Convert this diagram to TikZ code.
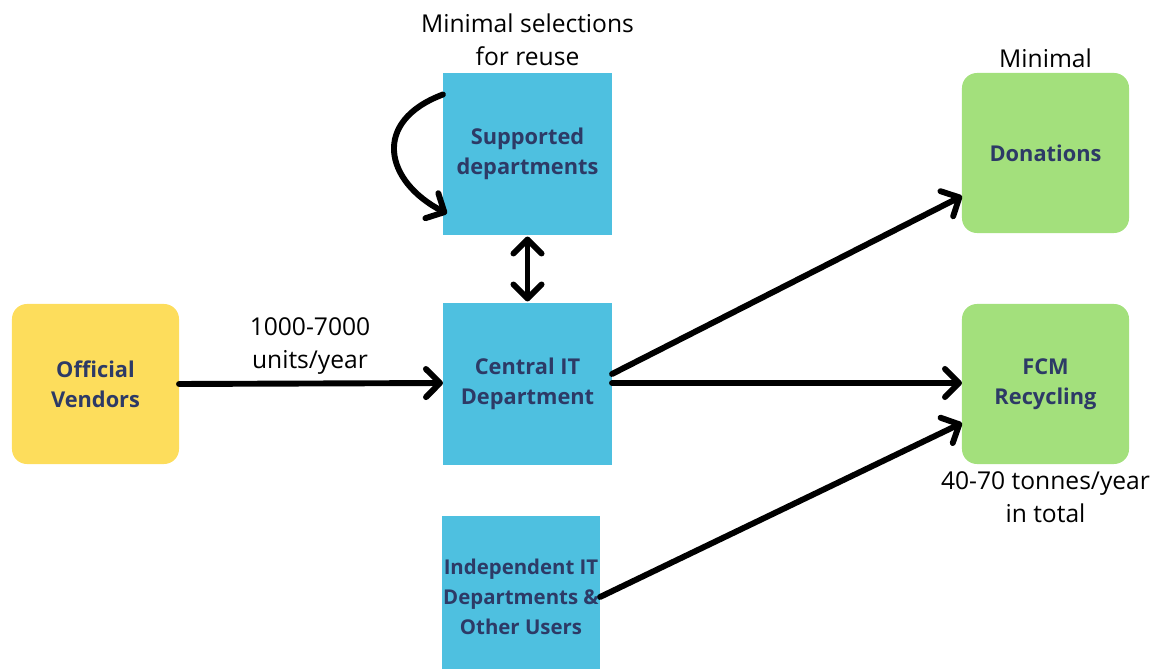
\documentclass[tikz,border=0pt]{standalone}
\usepackage{fontspec}
\setmainfont{Open Sans}
\usetikzlibrary{arrows.meta,positioning}

\definecolor{vendoryellow}{RGB}{253,221,92}
\definecolor{deptblue}{RGB}{78,192,224}
\definecolor{outgreen}{RGB}{163,224,124}
\definecolor{boxtext}{RGB}{45,58,102}

\begin{document}
\begin{tikzpicture}[x=0.025cm,y=-0.025cm,
    box/.style={minimum width=4.175cm,minimum height=4cm,inner sep=0pt,outer sep=0pt,
      align=center,text=boxtext,font=\fontsize{15.5}{21.3}\selectfont\bfseries},
    vendor/.style={box,fill=vendoryellow,rounded corners=0.375cm},
    dept/.style={box,fill=deptblue,minimum width=4.225cm,minimum height=4.025cm},
    outlet/.style={box,fill=outgreen,rounded corners=0.375cm},
    note/.style={align=center,font=\fontsize{17.5}{23.4}\selectfont},
    tip/.tip={Straight Barb[length=10pt,width=20pt,round]},
    flow/.style={line width=4.2pt,line cap=round,-tip}]
    \useasboundingbox (0,0) rectangle (1152,669);

    % sources and departments
    \node[vendor] (vendors) at (95.5,384) {Official\\Vendors};
    \node[dept] (supported) at (527.5,154) {Supported\\departments};
    \node[dept] (central) at (527.5,384) {Central IT\\Department};
    \node[dept,minimum width=3.95cm,font=\fontsize{14.5}{21.3}\selectfont\bfseries]
      (independent) at (521,597) {Independent IT\\Departments \&\\Other Users};

    % where the equipment goes
    \node[outlet] (donations) at (1045.5,153) {Donations};
    \node[outlet] (fcm) at (1045.5,384) {FCM\\Recycling};

    % figures
    \node[note] (reuse) at (527.5,40) {Minimal selections\\for reuse};
    \node[note] (mindon) at (1045.5,58) {Minimal};
    \node[note] (units) at (310,346) {1000-7000\\units/year};
    \node[note] (tonnes) at (1045.5,497) {40-70 tonnes/year\\in total};

    % flows
    \draw[flow] (vendors.east) -- ([yshift=0.025cm]central.west);
    \draw[flow,tip-tip] ([yshift=-0.05cm]supported.south) -- ([yshift=0.05cm]central.north);
    \draw[flow] ([yshift=-0.525cm]supported.north west)
      .. controls +(-72,27) and +(-62,-32) .. ([xshift=0.1cm,yshift=0.525cm]supported.south west);
    \draw[flow] ([yshift=0.25cm]central.east) -- ([yshift=-1.075cm]donations.west);
    \draw[flow] ([yshift=0.025cm]central.east) -- ([yshift=0.025cm]fcm.west);
    \draw[flow] (independent.east) -- ([yshift=-0.975cm]fcm.west);
\end{tikzpicture}
\end{document}
